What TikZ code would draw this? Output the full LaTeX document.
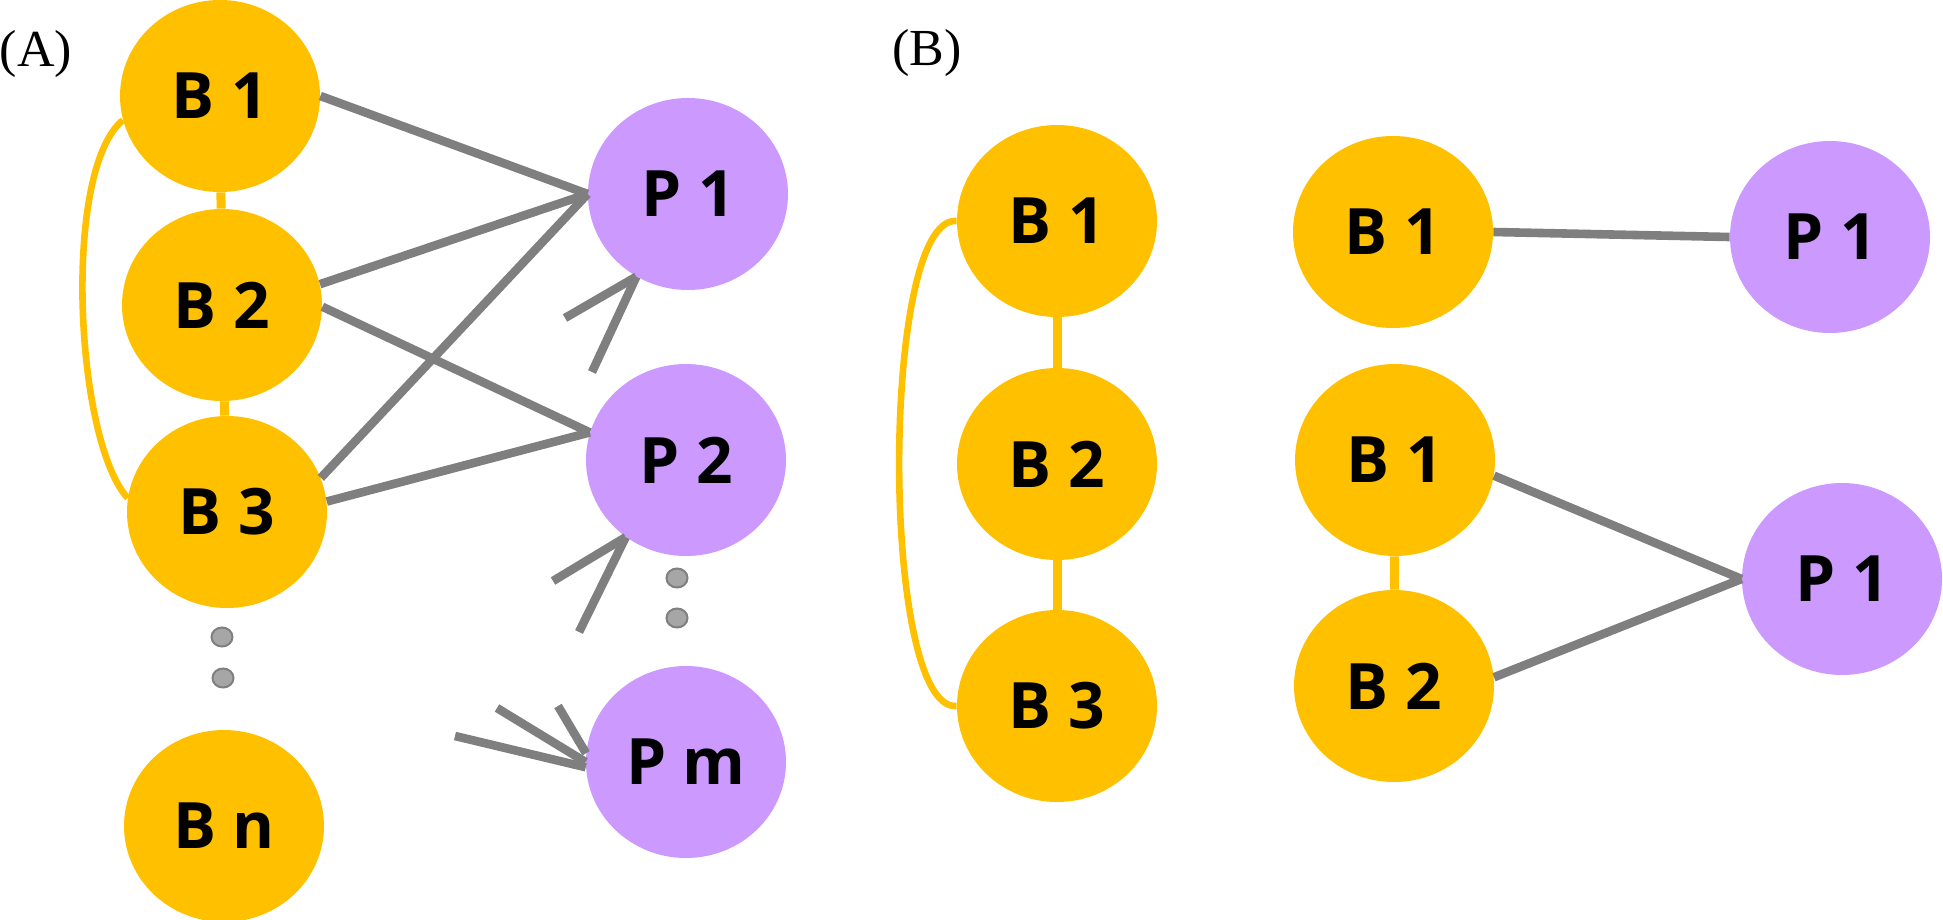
\documentclass[tikz,border=0pt]{standalone}
\usepackage{fontspec}
\setmainfont{Liberation Serif}
\newfontfamily\nodefont{Open Sans}
\usetikzlibrary{shapes.geometric}
\definecolor{bcol}{HTML}{FFC000}
\definecolor{pcol}{HTML}{CC99FF}
\definecolor{lcol}{HTML}{7F7F7F}
\definecolor{dotfill}{HTML}{A6A6A6}
\begin{document}
\begin{tikzpicture}[x=0.5pt,y=-0.5pt,
  bnode/.style={ellipse, fill=bcol, minimum width=100pt, minimum height=96pt, inner sep=0pt,
    font=\nodefont\bfseries\fontsize{32}{38}\selectfont},
  pnode/.style={bnode, fill=pcol},
  link/.style={draw=lcol, line width=4.3pt},
  ylink/.style={draw=bcol, line width=4.5pt},
  yarc/.style={draw=bcol, line width=3.3pt},
  dotnode/.style={ellipse, fill=dotfill, draw=lcol, line width=1pt, minimum width=10.5pt, minimum height=9.5pt, inner sep=0pt},
  panel/.style={font=\fontsize{26}{30}\selectfont, inner sep=0pt}]
\useasboundingbox (0,0) rectangle (1943,920);

% ---------- Panel A ----------
\node[panel] (labA) at (36,54) {(A)};
\node[bnode] (A1) at (220,96) {B 1};
\node[bnode] (A2) at (222,305) {B 2};
\node[bnode] (A3) at (227,512) {B 3};
\node[bnode] (An) at (224,826) {B n};
\node[dotnode] (Ad1) at (222,637) {};
\node[dotnode] (Ad2) at (223,678) {};

\node[pnode] (P1) at (688,194) {P 1};
\node[pnode] (P2) at (686,460) {P 2};
\node[pnode] (Pm) at (686,762) {P m};
\node[dotnode] (Pd1) at (677,578) {};
\node[dotnode] (Pd2) at (677,618) {};

\draw[ylink] (A1) -- (A2);
\draw[ylink] (A2) -- (A3);
\draw[yarc] (A1.194) .. controls (62,170) and (75,440) .. (A3.172);

\draw[link] (A1.east) -- (P1.west);
\draw[link] (A2.12) -- (P1.west);
\draw[link] (A3.20) -- (P1.west);
\draw[link] (A2.-1) -- (P2.164);
\draw[link] (A3.6) -- (P2.164);

\coordinate (s1a) at (565,318);
\coordinate (s1b) at (592,372);
\coordinate (s2a) at (553,581);
\coordinate (s2b) at (579,632);
\coordinate (sma) at (455,736);
\coordinate (smb) at (497,708);
\coordinate (smc) at (558,706);
\draw[link] (s1a) -- (P1.238);
\draw[link] (s1b) -- (P1.238);
\draw[link] (s2a) -- (P2.232);
\draw[link] (s2b) -- (P2.232);
\draw[link] (sma) -- (Pm.183);
\draw[link] (smb) -- (Pm.180);
\draw[link] (smc) -- (Pm.175);

% ---------- Panel B ----------
\node[panel] (labB) at (927,53) {(B)};
\node[bnode] (L1) at (1057,221) {B 1};
\node[bnode] (L2) at (1057,464) {B 2};
\node[bnode] (L3) at (1057,706) {B 3};
\draw[ylink] (L1) -- (L2);
\draw[ylink] (L2) -- (L3);
\draw[yarc] (L1.west) .. controls (880,215) and (880,712) .. (L3.west);

\node[bnode] (T1) at (1393,232) {B 1};
\node[pnode] (TP) at (1830,237) {P 1};
\draw[link] (T1.east) -- (TP.west);

\node[bnode] (U1) at (1395,460) {B 1};
\node[bnode] (U2) at (1394,686) {B 2};
\node[pnode] (UP) at (1842,579) {P 1};
\draw[ylink] (U1) -- (U2);
\draw[link] (U1.-9) -- (UP.west);
\draw[link] (U2.5) -- (UP.west);
\end{tikzpicture}
\end{document}
